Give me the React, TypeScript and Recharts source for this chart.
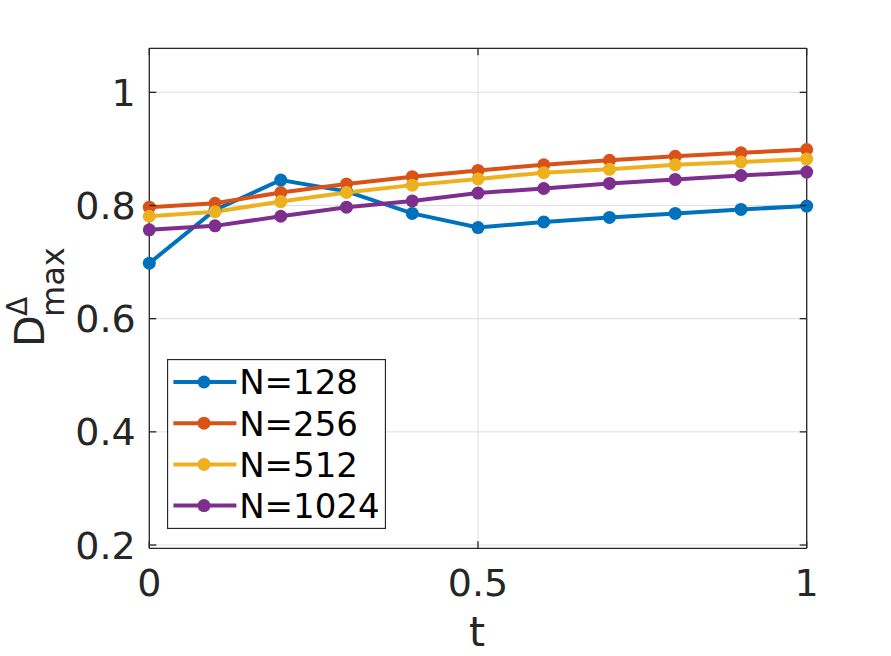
import React from "react";
import { LineChart, Line, XAxis, YAxis, CartesianGrid, Legend } from "recharts";

const tValues = [0, 0.1, 0.2, 0.3, 0.4, 0.5, 0.6, 0.7, 0.8, 0.9, 1];
const n128 = [0.698, 0.792, 0.845, 0.825, 0.786, 0.761, 0.771, 0.779, 0.786, 0.793, 0.799];
const n256 = [0.797, 0.804, 0.823, 0.838, 0.851, 0.862, 0.872, 0.88, 0.887, 0.893, 0.899];
const n512 = [0.781, 0.789, 0.807, 0.823, 0.836, 0.847, 0.858, 0.864, 0.872, 0.877, 0.882];
const n1024 = [0.757, 0.764, 0.781, 0.797, 0.808, 0.822, 0.83, 0.839, 0.846, 0.853, 0.859];

const xTicks = [0, 0.5, 1];
const yTicks = [0.2, 0.4, 0.6, 0.8, 1];

const series = [
  { key: "n128", name: "N=128", color: "#0072BD" },
  { key: "n256", name: "N=256", color: "#D95319" },
  { key: "n512", name: "N=512", color: "#EDB120" },
  { key: "n1024", name: "N=1024", color: "#7E2F8E" },
];

const data = tValues.map((t, i) => ({
  t,
  n128: n128[i],
  n256: n256[i],
  n512: n512[i],
  n1024: n1024[i],
}));

const AXIS = "#262626";
const FONT = "DejaVu Sans";
const TICK_LEN = 7;

function BottomTick(props: any) {
  const { x, y, payload } = props;
  return (
    <g>
      <line x1={x} x2={x} y1={y} y2={y - TICK_LEN} stroke={AXIS} strokeWidth={1.3} />
      <text x={x} y={y + 47.7} textAnchor="middle" fontSize={38} fill={AXIS} fontFamily={FONT}>
        {String(payload.value)}
      </text>
    </g>
  );
}

function LeftTick(props: any) {
  const { x, y, payload } = props;
  return (
    <g>
      <line x1={x} x2={x + TICK_LEN} y1={y} y2={y} stroke={AXIS} strokeWidth={1.3} />
      <text x={x - 13.5} y={y + 13.5} textAnchor="end" fontSize={38} fill={AXIS} fontFamily={FONT}>
        {String(payload.value)}
      </text>
    </g>
  );
}

function TopTick(props: any) {
  const { x, y } = props;
  return <line x1={x} x2={x} y1={y} y2={y + TICK_LEN} stroke={AXIS} strokeWidth={1.3} />;
}

function RightTick(props: any) {
  const { x, y } = props;
  return <line x1={x} x2={x - TICK_LEN} y1={y} y2={y} stroke={AXIS} strokeWidth={1.3} />;
}

function XLabel(props: any) {
  const vb = props.viewBox || {};
  return (
    <text
      x={vb.x + vb.width / 2 - 1}
      y={vb.y + 97.7}
      textAnchor="middle"
      fontSize={41}
      fill={AXIS}
      fontFamily={FONT}
    >
      t
    </text>
  );
}

// D with superscript Δ and subscript "max", rotated
function YLabel(props: any) {
  const vb = props.viewBox || {};
  const ax = vb.x + (vb.width || 0) - 105.3;
  const ay = vb.y + 298.7;
  return (
    <g transform={`translate(${ax},${ay}) rotate(-90)`}>
      <text x={0} y={0} fontSize={41} fill={AXIS} fontFamily={FONT}>
        D
      </text>
      <text x={31} y={-17.5} fontSize={28} fill={AXIS} fontFamily={FONT}>
        Δ
      </text>
      <text x={30} y={19.5} fontSize={32} fill={AXIS} fontFamily={FONT}>
        max
      </text>
    </g>
  );
}

function LegendBox() {
  return (
    <svg width={219} height={170} style={{ display: "block" }}>
      <rect x={0.5} y={0.5} width={218} height={169} fill="#fff" stroke={AXIS} strokeWidth={1.3} />
      {series.map((s, i) => {
        const cy = 23 + i * 41.2;
        return (
          <g key={s.key}>
            <line x1={6.4} x2={69.4} y1={cy} y2={cy} stroke={s.color} strokeWidth={4} />
            <circle cx={37} cy={cy} r={6.5} fill={s.color} />
            <text x={72.2} y={cy + 12.4} fontSize={34} fill="#000" fontFamily={FONT}>
              {s.name}
            </text>
          </g>
        );
      })}
    </svg>
  );
}

export default function App() {
  return (
    <div
      style={{
        position: "absolute",
        left: 0,
        top: 0,
        width: 891,
        height: 656,
        background: "#fff",
        fontFamily: FONT,
      }}
    >
      <LineChart
        width={891}
        height={656}
        data={data}
        margin={{ top: 38.3, right: 74.3, bottom: 67.7, left: 89.3 }}
      >
        <CartesianGrid stroke="#dfdfdf" strokeWidth={1} />
        <XAxis
          dataKey="t"
          type="number"
          domain={[0, 1]}
          ticks={xTicks}
          height={40}
          tickSize={0}
          tickMargin={0}
          tickLine={false}
          tick={<BottomTick />}
          axisLine={{ stroke: AXIS, strokeWidth: 1.3 }}
          label={<XLabel />}
        />
        <XAxis
          xAxisId="top"
          orientation="top"
          type="number"
          dataKey="t"
          domain={[0, 1]}
          ticks={xTicks}
          height={10}
          tickSize={0}
          tickMargin={0}
          tickLine={false}
          tick={<TopTick />}
          axisLine={{ stroke: AXIS, strokeWidth: 1.3 }}
        />
        <YAxis
          type="number"
          domain={[0.1942, 1.0778]}
          allowDataOverflow
          ticks={yTicks}
          width={60}
          tickSize={0}
          tickMargin={0}
          tickLine={false}
          tick={<LeftTick />}
          axisLine={{ stroke: AXIS, strokeWidth: 1.3 }}
          label={<YLabel />}
        />
        <YAxis
          yAxisId="right"
          orientation="right"
          type="number"
          domain={[0.1942, 1.0778]}
          allowDataOverflow
          ticks={yTicks}
          width={10}
          tickSize={0}
          tickMargin={0}
          tickLine={false}
          tick={<RightTick />}
          axisLine={{ stroke: AXIS, strokeWidth: 1.3 }}
        />
        <Legend
          layout="vertical"
          align="center"
          verticalAlign="middle"
          wrapperStyle={{ left: 167.3, top: 359.3, width: 219, height: 170 }}
          content={<LegendBox />}
        />
        {series.map((s) => (
          <Line
            key={s.key}
            type="linear"
            dataKey={s.key}
            name={s.name}
            stroke={s.color}
            strokeWidth={4}
            dot={{ r: 6.5, fill: s.color, stroke: s.color, strokeWidth: 0 }}
            activeDot={false}
            isAnimationActive={false}
          />
        ))}
      </LineChart>
    </div>
  );
}
